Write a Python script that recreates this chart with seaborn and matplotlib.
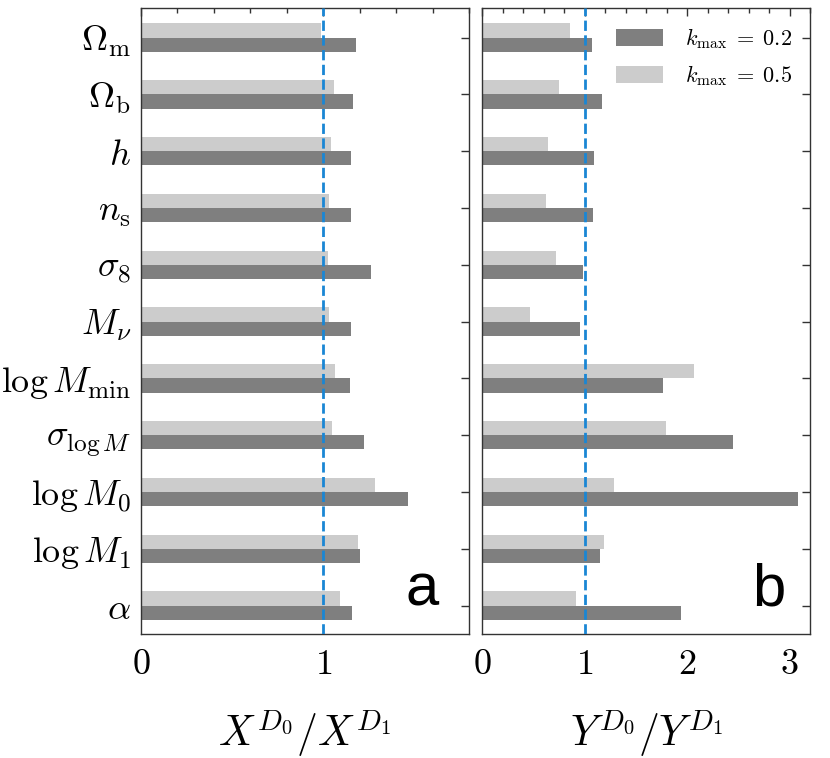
import pandas as pd
import seaborn as sns
import matplotlib
matplotlib.use("Agg")
import matplotlib.pyplot as plt
from matplotlib.ticker import MultipleLocator, FixedLocator, FuncFormatter

# 1. Dados
params = [r'$\Omega_{\mathrm{m}}$', r'$\Omega_{\mathrm{b}}$', r'$h$', r'$n_{\mathrm{s}}$',
          r'$\sigma_8$', r'$M_\nu$', r'$\log M_{\mathrm{min}}$', r'$\sigma_{\log M}$',
          r'$\log M_0$', r'$\log M_1$', r'$\alpha$']
labels_k = [r'$k_{\mathrm{max}}\;=\;0.2$', r'$k_{\mathrm{max}}\;=\;0.5$']

x_k02 = [1.18, 1.165, 1.15, 1.155, 1.26, 1.15, 1.145, 1.225, 1.465, 1.20, 1.16]
x_k05 = [0.99, 1.06, 1.045, 1.03, 1.025, 1.03, 1.065, 1.05, 1.285, 1.19, 1.09]
y_k02 = [1.07, 1.17, 1.09, 1.08, 0.99, 0.955, 1.77, 2.445, 3.085, 1.15, 1.94]
y_k05 = [0.86, 0.755, 0.64, 0.625, 0.725, 0.47, 2.065, 1.795, 1.285, 1.19, 0.92]

cores = {labels_k[0]: '#7f7f7f', labels_k[1]: '#cccccc'}


def long_df(v02, v05):
    return pd.DataFrame({
        'param': params * 2,
        'valor': v05 + v02,
        'kmax': [labels_k[1]] * len(params) + [labels_k[0]] * len(params),
    })


df_x = long_df(x_k02, x_k05)
df_y = long_df(y_k02, y_k05)

# 2. Estilo
sns.set_style("white")
plt.rcParams['mathtext.fontset'] = 'cm'
plt.rcParams['font.family'] = ['DejaVu Sans']
plt.rcParams['text.color'] = 'black'

fig = plt.figure(figsize=(8.3, 7.58), dpi=100)
ax_a = fig.add_axes([141 / 830, 1 - 634 / 758, 328 / 830, 626 / 758])
ax_b = fig.add_axes([482 / 830, 1 - 634 / 758, 328 / 830, 626 / 758])

ordem_hue = [labels_k[1], labels_k[0]]  # clara em cima, escura embaixo

for ax, df, xmax, letra, xletra in [(ax_a, df_x, 1.8, 'a', 0.857),
                                    (ax_b, df_y, 3.2, 'b', 0.875)]:
    sns.barplot(data=df, x='valor', y='param', hue='kmax', hue_order=ordem_hue,
                palette=cores, orient='h', width=0.5, linewidth=0,
                saturation=1, ax=ax)
    ax.axvline(1, color='#1a86d4', linestyle='--', linewidth=2, zorder=5)
    ax.set_xlim(0, xmax)
    ax.set_ylim(10.5, -0.52)
    ax.xaxis.set_minor_locator(MultipleLocator(0.2))
    ax.xaxis.set_major_formatter(FuncFormatter(lambda v, p: f'${v:g}$'))
    ax.tick_params(axis='both', which='both', direction='in', top=True, right=True,
                   width=1, colors='#333333', labelcolor='black')
    ax.tick_params(axis='both', which='major', length=6, labelsize=26)
    ax.tick_params(axis='x', which='major', pad=9)
    ax.tick_params(axis='y', which='major', pad=7)
    ax.tick_params(axis='x', which='minor', length=3.5)
    ax.tick_params(axis='y', which='minor', left=False, right=False)
    for s in ax.spines.values():
        s.set_linewidth(1)
        s.set_color('#333333')
    ax.set_ylabel('')
    ax.text(xletra, 0.045, letra, transform=ax.transAxes, ha='center', va='baseline',
            fontsize=43, family='Liberation Sans', color='black')

ax_a.xaxis.set_major_locator(FixedLocator([0, 1]))
ax_b.xaxis.set_major_locator(MultipleLocator(1))
ax_b.tick_params(axis='y', labelleft=False)

ax_a.set_xlabel(r'$X^{D_0}/X^{D_1}$', fontsize=30, labelpad=19, color='black')
ax_b.set_xlabel(r'$Y^{D_0}/Y^{D_1}$', fontsize=30, labelpad=19, color='black')

# 3. Legenda (ordem: 0.2 primeiro)
ax_a.get_legend().remove()
h, l = ax_b.get_legend_handles_labels()
ax_b.legend([h[1], h[0]], [l[1], l[0]], loc='upper right', frameon=False,
            fontsize=16, handlelength=2.1, handleheight=0.8,
            borderaxespad=0.4, labelspacing=0.55, handletextpad=1.0)

fig.savefig('out.png', dpi=100)
